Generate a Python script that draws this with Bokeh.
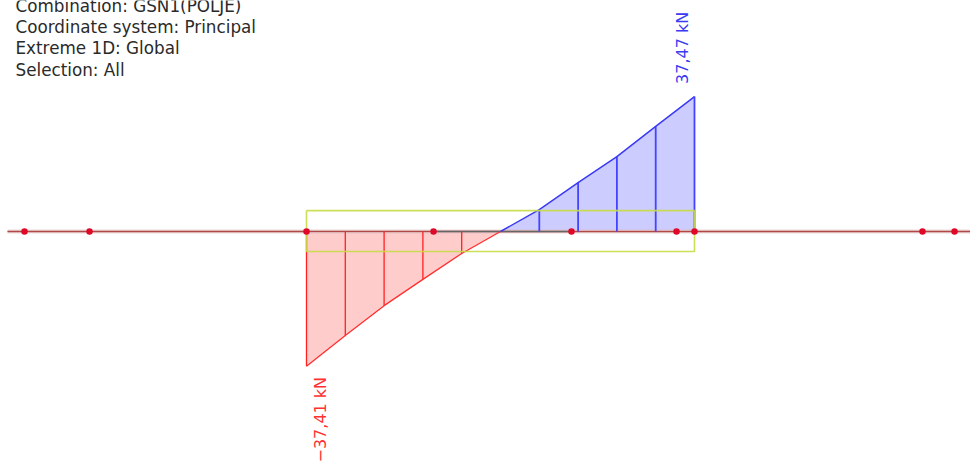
from bokeh.plotting import figure
from bokeh.embed import file_html
from bokeh.resources import INLINE
from bokeh.models import Range1d, Label
from bokeh.core.properties import value

# Values: stations along the member (m) and shear (kN)
stations = [0.0, 0.5, 1.0, 1.5, 2.0, 2.5, 3.0, 3.5, 4.0, 4.5, 5.0]
shear = [-37.41, -28.9, -20.6, -13.3, -6.1, 0.0, 6.1, 13.6, 20.8, 29.2, 37.47]
neg_st = stations[:6]
neg_v = shear[:6]
pos_st = stations[5:]
pos_v = shear[5:]
beam_x = [-3.853, 8.557]
nodes_x = [-3.634, -2.796, 0.0, 1.637, 3.415, 4.768, 5.0, 7.938, 8.351]
nodes_y = [0] * len(nodes_x)
dark_x = [1.637, 3.415]
band_x = [0.0, 5.0, 5.0, 0.0, 0.0]
band_y = [5.8, 5.8, -5.55, -5.55, 5.8]
info = ["Combination: GSN1(POLJE)", "Coordinate system: Principal", "Extreme 1D: Global", "Selection: All"]
neg_label = "\u221237,41 kN"
pos_label = "37,47 kN"

PX_X = 77.6
PX_Y = 3.6
p = figure(width=970, height=462, output_backend="svg", toolbar_location=None,
           x_range=Range1d(-306 / PX_X, (970 - 306) / PX_X),
           y_range=Range1d(-(462 - 231) / PX_Y, 231 / PX_Y),
           min_border=0, min_border_left=0, min_border_right=0, min_border_top=0, min_border_bottom=0)
p.xaxis.visible = False
p.yaxis.visible = False
p.grid.visible = False
p.outline_line_color = None
p.background_fill_color = "white"

# filled diagram
p.varea(x=neg_st, y1=neg_v, y2=[0] * len(neg_v), fill_color="#ffcccc")
p.varea(x=pos_st, y1=pos_v, y2=[0] * len(pos_v), fill_color="#ccccff")

# beam with pale halo
p.line(beam_x, [0, 0], line_color="#dcb4b4", line_width=3.5)
p.line(beam_x, [0, 0], line_color="#b04848", line_width=1.2)
p.line(dark_x, [0, 0], line_color="#666666", line_width=1.3)

# hatching
p.segment(x0=neg_st, y0=neg_v, x1=neg_st, y1=[0] * len(neg_v), line_color="#ff2020", line_width=1.3)
p.segment(x0=pos_st, y0=pos_v, x1=pos_st, y1=[0] * len(pos_v), line_color="#4444ff", line_width=1.8)
p.line(neg_st, neg_v, line_color="#ff3030", line_width=1.3)
p.line(pos_st, pos_v, line_color="#3a3af5", line_width=1.5)

# limit band
p.line(band_x, band_y, line_color="#c8dc46", line_width=1.6, line_alpha=0.9)

# nodes
p.scatter(nodes_x, nodes_y, marker="circle", size=6.5, fill_color="#e00828", line_color=None)

# texts
for txt, baseline in zip(info, [5.5, 26, 47, 69]):
    p.add_layout(Label(x=15, y=462 - baseline, x_units="screen", y_units="screen", text=txt,
                       text_font="DejaVu Sans", text_font_size="16.8px", text_color="#2a2a2a",
                       text_baseline="alphabetic"))
p.text(x=[0.0], y=[-40.4], text=[neg_label], angle=1.5708, text_color="#ff3030",
       text_font=value("DejaVu Sans"), text_font_size="16px", text_align="right", text_baseline="middle",
       x_offset=[14])
p.text(x=[5.0], y=[41.0], text=[pos_label], angle=1.5708, text_color="#3a3af5",
       text_font=value("DejaVu Sans"), text_font_size="16px", text_align="left", text_baseline="middle",
       x_offset=[-12])

open("out.html", "w").write(file_html(p, INLINE))
